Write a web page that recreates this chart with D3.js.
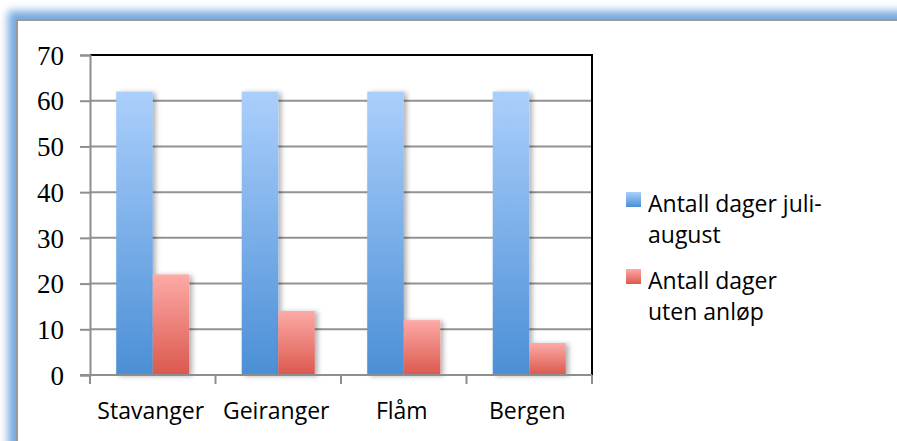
<!DOCTYPE html>
<html>
<head>
<meta charset="utf-8">
<script src="https://cdn.jsdelivr.net/npm/d3@7"></script>
<style>
  body { margin: 0; background: #fff; }
  .ytick text { font-family: "Liberation Serif", "DejaVu Serif", serif; font-size: 27px; fill: #000; }
  .xlab { font-family: "Open Sans", "Noto Sans", sans-serif; font-size: 23px; fill: #000; }
  .legend text { font-family: "Open Sans", "Noto Sans", sans-serif; font-size: 23px; fill: #000; }
</style>
</head>
<body>
<div id="chart"></div>
<script>

var width = 897,
    height = 441;

// data
var categories = ["Stavanger", "Geiranger", "Flåm", "Bergen"];
var seriesNames = ["Antall dager juli-august", "Antall dager uten anløp"];
var juliAugust = [62, 62, 62, 62];
var utenAnlop = [22, 14, 12, 7];
var yTicks = [0, 10, 20, 30, 40, 50, 60, 70];
var legendLines = [["Antall dager juli-", "august"], ["Antall dager", "uten anløp"]];

var margin = {left: 90, right: 305, top: 55, bottom: 66};

var svg = d3.select("#chart").append("svg")
    .attr("width", width)
    .attr("height", height);

var defs = svg.append("defs");

var blur = defs.append("filter").attr("id", "glow")
    .attr("x", "-10%").attr("y", "-10%").attr("width", "130%").attr("height", "130%");
blur.append("feGaussianBlur").attr("stdDeviation", 4);

var shadow = defs.append("filter").attr("id", "shadow")
    .attr("x", "-30%").attr("y", "-10%").attr("width", "160%").attr("height", "130%");
shadow.append("feDropShadow")
    .attr("dx", 3).attr("dy", 1).attr("stdDeviation", 2.5)
    .attr("flood-color", "#000").attr("flood-opacity", 0.3);

function grad(id, top, bottom) {
  var g = defs.append("linearGradient").attr("id", id)
      .attr("x1", 0).attr("y1", 0).attr("x2", 0).attr("y2", 1);
  g.append("stop").attr("offset", "0%").attr("stop-color", top);
  g.append("stop").attr("offset", "100%").attr("stop-color", bottom);
}
grad("gBlue", "#abcffc", "#4b8fd6");
grad("gRed", "#fdaaa7", "#db584d");

var fills = ["url(#gBlue)", "url(#gRed)"];

// frame with blue glow
svg.append("rect")
    .attr("x", 8).attr("y", 11)
    .attr("width", 1000).attr("height", 1000)
    .attr("fill", "#74a9df")
    .attr("filter", "url(#glow)");
svg.append("rect")
    .attr("x", 17).attr("y", 20)
    .attr("width", 1000).attr("height", 1000)
    .attr("fill", "#fff")
    .attr("stroke", "#9a9a9a")
    .attr("stroke-width", 2);

var x0 = d3.scaleBand()
    .domain(categories)
    .range([margin.left, width - margin.right])
    .paddingInner(0.418)
    .paddingOuter(0.209);

var x1 = d3.scaleBand()
    .domain([0, 1])
    .range([0, x0.bandwidth()]);

var y = d3.scaleLinear()
    .domain([0, 70])
    .range([height - margin.bottom, margin.top]);

// gridlines
svg.append("g")
  .selectAll("line")
  .data(yTicks.slice(1, -1))
  .enter().append("line")
    .attr("x1", margin.left).attr("x2", width - margin.right)
    .attr("y1", function(d) { return y(d); })
    .attr("y2", function(d) { return y(d); })
    .attr("stroke", "#929292")
    .attr("stroke-width", 2);

// top and right border
svg.append("path")
    .attr("d", "M" + margin.left + "," + y(70) + "H" + (width - margin.right) + "V" + y(0))
    .attr("fill", "none")
    .attr("stroke", "#000")
    .attr("stroke-width", 2);

// bars
var groups = svg.append("g").selectAll("g")
    .data(categories)
  .enter().append("g")
    .attr("transform", function(d) { return "translate(" + x0(d) + ",0)"; });

groups.selectAll("rect")
    .data(function(d, i) { return [juliAugust[i], utenAnlop[i]]; })
  .enter().append("rect")
    .attr("x", function(d, j) { return x1(j); })
    .attr("y", function(d) { return y(d); })
    .attr("width", x1.bandwidth())
    .attr("height", function(d) { return y(0) - y(d); })
    .attr("fill", function(d, j) { return fills[j]; })
    .attr("filter", "url(#shadow)");

// y axis
var yAxis = svg.append("g")
    .attr("transform", "translate(" + margin.left + ",0)")
    .call(d3.axisLeft(y).tickValues(yTicks).tickSize(10).tickPadding(16));
yAxis.select(".domain").attr("stroke", "#8e8e8e").attr("stroke-width", 2);
yAxis.selectAll(".tick line").attr("stroke", "#8e8e8e").attr("stroke-width", 2);
yAxis.selectAll(".tick").attr("class", "ytick");
yAxis.selectAll("text").attr("dy", "0.34em");
yAxis.attr("font-family", null).attr("font-size", null);

// x axis with ticks between categories
var xEdges = [margin.left].concat(categories.map(function(c) { return x0(c) + x0.bandwidth() + x0.step() * 0.209; }));
svg.append("line")
    .attr("x1", margin.left - 10).attr("x2", width - margin.right)
    .attr("y1", y(0)).attr("y2", y(0))
    .attr("stroke", "#8e8e8e").attr("stroke-width", 2);
svg.append("g").selectAll("line")
    .data(xEdges)
  .enter().append("line")
    .attr("x1", function(d) { return d; })
    .attr("x2", function(d) { return d; })
    .attr("y1", y(0)).attr("y2", y(0) + 9)
    .attr("stroke", "#8e8e8e").attr("stroke-width", 2);

svg.append("g").selectAll("text")
    .data(categories)
  .enter().append("text")
    .attr("class", "xlab")
    .attr("x", function(d) { return x0(d) + x0.bandwidth() / 2 - 2; })
    .attr("y", 419)
    .attr("text-anchor", "middle")
    .text(function(d) { return d; });

// legend
var legend = svg.append("g").attr("class", "legend");
var legY = [192, 269];
legendLines.forEach(function(lines, i) {
  legend.append("rect")
      .attr("x", 626).attr("y", legY[i])
      .attr("width", 15).attr("height", 15)
      .attr("fill", fills[i]);
  legend.append("text")
      .attr("x", 648).attr("y", legY[i] + 20)
    .selectAll("tspan")
      .data(lines)
    .enter().append("tspan")
      .attr("x", 648)
      .attr("dy", function(d, k) { return k === 0 ? 0 : 31; })
      .text(function(d) { return d; });
});

</script>
</body>
</html>
